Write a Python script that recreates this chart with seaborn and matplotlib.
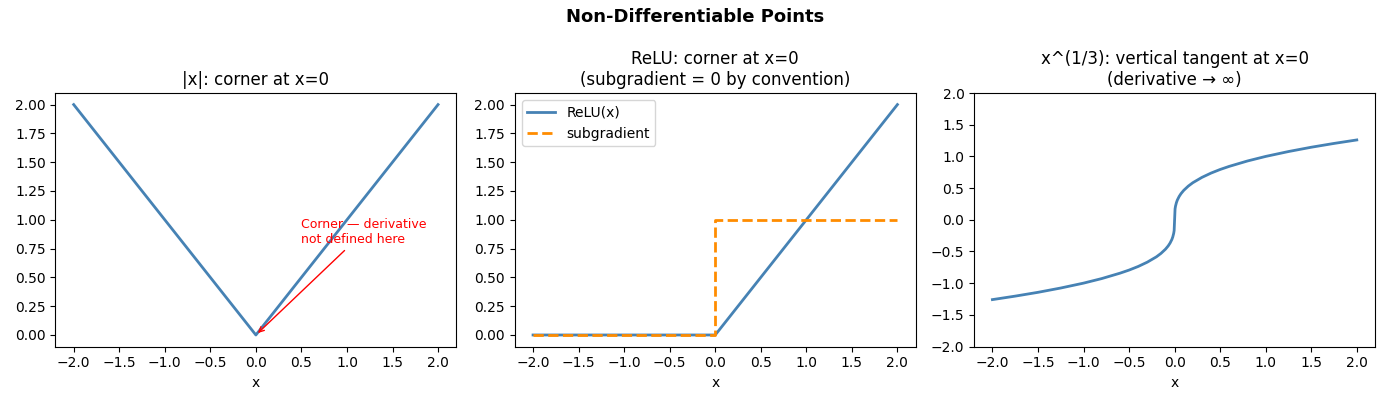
import numpy as np
import matplotlib
matplotlib.use("Agg")
import matplotlib.pyplot as plt
import seaborn as sns

# |x|
abs_x = [-2.0, 0.0, 2.0]
abs_y = [2.0, 0.0, 2.0]

# ReLU and its subgradient
relu_x = [-2.0, 0.0, 2.0]
relu_y = [0.0, 0.0, 2.0]
sub_x = [-2.0, 0.0, 0.0, 2.0]
sub_y = [0.0, 0.0, 1.0, 1.0]

# x^(1/3)
cbrt_x = [-2.0, -1.75, -1.5, -1.25, -1.0, -0.8, -0.6, -0.5, -0.4, -0.3, -0.2,
          -0.15, -0.1, -0.07, -0.05, -0.03, -0.02, -0.01, -0.005,
          0.005, 0.01, 0.02, 0.03, 0.05, 0.07, 0.1, 0.15, 0.2, 0.3, 0.4,
          0.5, 0.6, 0.8, 1.0, 1.25, 1.5, 1.75, 2.0]
cbrt_y = [-1.26, -1.205, -1.145, -1.077, -1.0, -0.928, -0.843, -0.794, -0.737, -0.669, -0.585,
          -0.531, -0.464, -0.412, -0.368, -0.311, -0.271, -0.215, -0.171,
          0.171, 0.215, 0.271, 0.311, 0.368, 0.412, 0.464, 0.531, 0.585, 0.669, 0.737,
          0.794, 0.843, 0.928, 1.0, 1.077, 1.145, 1.205, 1.26]

blue = "steelblue"
orange = "darkorange"

fig, axes = plt.subplots(1, 3, figsize=(13.9, 3.96))

# 1. |x|
ax = axes[0]
sns.lineplot(x=abs_x, y=abs_y, ax=ax, color=blue, linewidth=2, sort=False, estimator=None)
ax.annotate("Corner — derivative\nnot defined here", xy=(0, 0), xytext=(0.5, 0.8),
            color="red", fontsize=9,
            arrowprops=dict(arrowstyle="->", color="red"))
ax.set_title("|x|: corner at x=0", fontsize=12)
ax.set_xlabel("x")
ax.set_yticks(np.arange(0, 2.01, 0.25))

# 2. ReLU
ax = axes[1]
sns.lineplot(x=relu_x, y=relu_y, ax=ax, color=blue, linewidth=2, sort=False,
             estimator=None, label="ReLU(x)")
sns.lineplot(x=sub_x, y=sub_y, ax=ax, color=orange, linewidth=2, linestyle="--",
             sort=False, estimator=None, label="subgradient")
ax.set_title("ReLU: corner at x=0\n(subgradient = 0 by convention)", fontsize=12)
ax.set_xlabel("x")
ax.set_ylim(-0.1, 2.1)
ax.set_yticks(np.arange(0, 2.01, 0.25))
ax.legend(loc="upper left")

# 3. cube root
ax = axes[2]
sns.lineplot(x=cbrt_x, y=cbrt_y, ax=ax, color=blue, linewidth=2, sort=False, estimator=None)
ax.set_title("x^(1/3): vertical tangent at x=0\n(derivative → ∞)", fontsize=12)
ax.set_xlabel("x")
ax.set_ylim(-2, 2)

for ax in axes:
    ax.set_xticks(np.arange(-2.0, 2.01, 0.5))

fig.suptitle("Non-Differentiable Points", fontsize=13, fontweight="bold")
plt.tight_layout()
plt.subplots_adjust(bottom=0.125, top=0.765)
plt.savefig("out.png", dpi=100)
